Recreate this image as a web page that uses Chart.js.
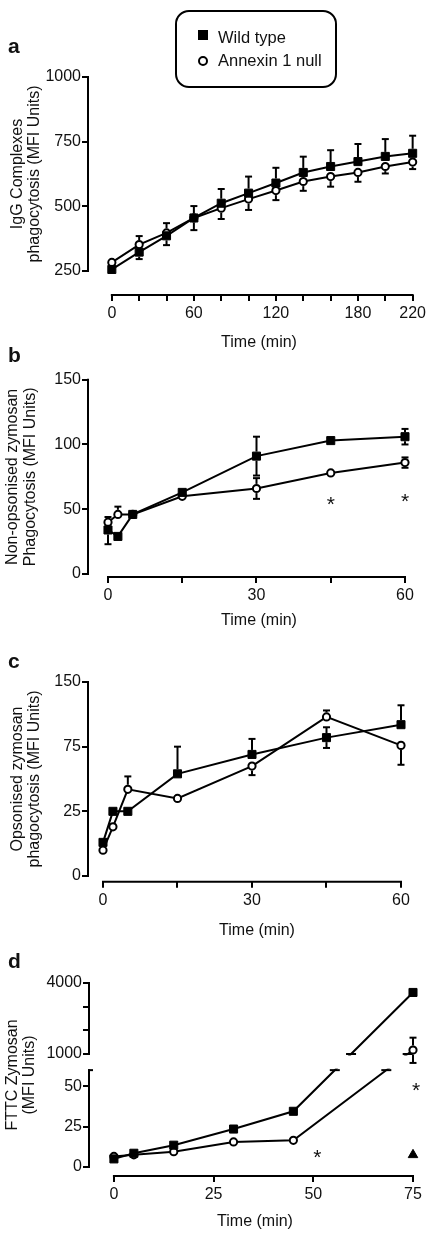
<!DOCTYPE html>
<html>
<head>
<meta charset="utf-8">
<title>Phagocytosis time courses</title>
<script src="https://cdn.jsdelivr.net/npm/chart.js@4.4.1/dist/chart.umd.min.js"></script>
<style>
  body { margin: 0; background: #fff; }
  #page { position: relative; width: 429px; height: 1234px; overflow: hidden; font-family: "Liberation Sans", Arial, sans-serif; color: #111; }
  canvas { position: absolute; left: 0; }
  .letter { position: absolute; left: 8px; font-weight: bold; font-size: 21px; line-height: 21px; }
  #legend { position: absolute; left: 175px; top: 10px; width: 158px; height: 74px; border: 2px solid #000; border-radius: 14px; }
  .mark { position: absolute; left: 21px; width: 10px; height: 10px; box-sizing: border-box; background: #000; }
  .mark.open { background: #fff; border: 2px solid #000; border-radius: 50%; }
  .name { position: absolute; left: 41px; font-size: 16.5px; line-height: 18px; white-space: nowrap; }
</style>
</head>
<body>
<div id="page">
  <canvas id="chartA" width="429" height="360" style="top:0px"></canvas>
  <canvas id="chartB" width="429" height="285" style="top:350px"></canvas>
  <canvas id="chartC" width="429" height="310" style="top:630px"></canvas>
  <canvas id="chartD" width="429" height="294" style="top:940px"></canvas>
  <div class="letter" style="top:35px">a</div>
  <div class="letter" style="top:344px">b</div>
  <div class="letter" style="top:650px">c</div>
  <div class="letter" style="top:950px">d</div>
  <div id="legend"></div>
</div>
<script>
Chart.defaults.font.family = '"Liberation Sans", Arial, sans-serif';
Chart.defaults.color = "#111";

const seriesNames = ["Wild type", "Annexin 1 null"];

// a - IgG complexes
const timeA = [0, 20, 40, 60, 80, 100, 120, 140, 160, 180, 200, 220];
const wtA = [256, 323, 386, 455, 512, 551, 590, 631, 654, 673, 693, 705];
const koA = [283, 352, 397, 455, 493, 528, 561, 596, 615, 631, 654, 671];
// [below, above]
const wtErrA = [[0, 0], [27, 0], [36, 0], [0, 46], [0, 55], [0, 64], [0, 59], [0, 61], [0, 63], [0, 68], [0, 67], [0, 68]];
const koErrA = [[0, 0], [0, 33], [0, 38], [47, 0], [42, 0], [42, 0], [37, 0], [36, 0], [39, 0], [36, 0], [27, 0], [27, 0]];
const xTicksA = [0, 20, 40, 60, 80, 100, 120, 140, 160, 180, 200, 220];
const xLabelsA = ["0", "", "", "60", "", "", "120", "", "", "180", "", "220"];
const yTicksA = [250, 500, 750, 1000];

// b - non-opsonised zymosan
const timeB = [0, 2, 5, 15, 30, 45, 60];
const wtB = [34, 29, 46, 63, 91, 103, 106];
const koB = [40, 46, 46, 60, 66, 78, 86];
const wtErrB = [[11, 0], [0, 0], [0, 0], [0, 0], [15, 15], [1, 1], [6, 6]];
const koErrB = [[0, 4], [0, 6], [0, 0], [0, 0], [8, 8], [0, 0], [4, 4]];
const starsB = [[45, 58], [60, 60]];
const xTicksBC = [0, 15, 30, 45, 60];
const xLabelsBC = ["0", "", "30", "", "60"];
const yTicksB = [0, 50, 100, 150];

// c - opsonised zymosan
const timeC = [0, 2, 5, 15, 30, 45, 60];
const wtC = [26, 50, 50, 79, 94, 107, 117];
const koC = [20, 38, 67, 60, 85, 123, 101];
const wtErrC = [[0, 0], [0, 0], [3, 0], [0, 21], [0, 12], [8, 8], [0, 15]];
const koErrC = [[0, 0], [0, 0], [0, 10], [0, 0], [7, 0], [0, 5], [15, 0]];
const yTicksC = [0, 50, 100, 150];
const yLabelsC = ["0", "25", "75", "150"];

// d - FITC zymosan (broken y axis)
const timeD = [0, 5, 15, 30, 45, 75];
const wtD = [5, 8.5, 13.5, 23.5, 34.5, 3600];
const koD = [6.5, 7.5, 9.5, 15.5, 16.5, 1170];
const wtErrD = [[0, 0], [0, 0], [0, 0], [0, 0], [0, 0], [0, 0]];
const koErrD = [[0, 0], [0, 0], [0, 0], [0, 0], [0, 0], [690, 520]];
const ctrlTimeD = [75];
const ctrlD = [7.5];
const starsD = [[51, 9], [75.75, 51]];
const xTicksD = [0, 25, 50, 75];
const yTicksLowD = [0, 25, 50];
const yTicksHighD = [1000, 2000, 3000, 4000];
const yLabelsHighD = ["1000", "", "", "4000"];

// lower part 0-60, short gap, upper part 1000-4000
function breakD(v) {
  if (v <= 60) return v;
  if (v >= 1000) return 70 + (v - 1000) * 44 / 3000;
  return 60 + (v - 60) / 940 * 10;
}

const WT = { style: "rect", r: 5.7, fill: "#000", bw: 1, half: 4.5 };
const KO = { style: "circle", r: 3.6, fill: "#fff", bw: 2, half: 4.6 };
const CTRL = { style: "triangle", r: 5.5, fill: "#000", bw: 1, half: 4 };

// legend
const legend = document.getElementById("legend");
[["", 18, 16], ["open", 44, 38.5]].forEach(([cls, mTop, tTop], i) => {
  legend.insertAdjacentHTML("beforeend",
    `<div class="mark ${cls}" style="top:${mTop}px"></div><div class="name" style="top:${tTop}px">${seriesNames[i]}</div>`);
});

function axesPlugin(o) {
  return {
    id: "axes" + o.id,
    afterDatasetsDraw(chart) {
      const ctx = chart.ctx, xs = chart.scales.x, ys = chart.scales.y, ca = chart.chartArea;
      const tf = o.tf || ((v) => v);
      const py = (v) => ys.getPixelForValue(tf(v));
      const seg = (x1, y1, x2, y2) => { ctx.beginPath(); ctx.moveTo(x1, y1); ctx.lineTo(x2, y2); ctx.stroke(); };
      ctx.save();
      ctx.lineWidth = 2;
      ctx.strokeStyle = "#000";

      if (o.gap) {
        const gTop = ys.getPixelForValue(o.gap[1]), gBot = ys.getPixelForValue(o.gap[0]);
        ctx.fillStyle = "#fff";
        ctx.fillRect(ca.left + 2, gTop + 1.5, chart.width - ca.left, gBot - gTop - 3);
        chart.data.datasets.forEach((ds) => {
          const p = ds.data;
          for (let i = 1; i < p.length; i++) {
            if (p[i - 1].y < o.gap[0] && p[i].y > o.gap[1]) {
              o.gap.forEach((g) => {
                const f = (g - p[i - 1].y) / (p[i].y - p[i - 1].y);
                const x = xs.getPixelForValue(p[i - 1].x + f * (p[i].x - p[i - 1].x));
                const y = ys.getPixelForValue(g);
                seg(x - 5, y, x + 5, y);
              });
            }
          }
        });
      }

      // error bars
      chart.data.datasets.forEach((ds) => {
        if (!ds.errors) return;
        ds.errors.forEach((e, i) => {
          const x = xs.getPixelForValue(ds.data[i].x), y = ys.getPixelForValue(ds.data[i].y);
          [[-1, e[0]], [1, e[1]]].forEach(([dir, size]) => {
            if (!size) return;
            const y2 = py(ds.raw[i] + dir * size);
            if (Math.abs(y2 - y) <= ds.half) return;
            seg(x, y - dir * ds.half, x, y2);
            seg(x - 3.5, y2, x + 3.5, y2);
          });
        });
      });

      // axis lines
      o.yLines.forEach(([a, b]) => seg(ca.left, ys.getPixelForValue(a) + 1, ca.left, ys.getPixelForValue(b) - 1));
      (o.yCaps || []).forEach((v) => seg(ca.left - 1, ys.getPixelForValue(v), ca.left + 4, ys.getPixelForValue(v)));
      seg(xs.getPixelForValue(o.xLine[0]) - 1, ca.bottom, xs.getPixelForValue(o.xLine[1]) + 1, ca.bottom);

      // titles
      ctx.fillStyle = "#111";
      ctx.font = '16px "Liberation Sans", Arial, sans-serif';
      ctx.textAlign = "center";
      ctx.textBaseline = "middle";
      ctx.fillText("Time (min)", o.xTitlePos[0], o.xTitlePos[1]);
      const yc = (ys.getPixelForValue(o.yLines[0][0]) + ys.getPixelForValue(o.yLines[o.yLines.length - 1][1])) / 2;
      ctx.textBaseline = "alphabetic";
      o.yTitle.forEach((t, i) => {
        ctx.save();
        ctx.translate(o.yTitleX[i], yc);
        ctx.rotate(-Math.PI / 2);
        ctx.fillText(t, 0, 0);
        ctx.restore();
      });

      ctx.font = '21px "Liberation Sans", Arial, sans-serif';
      (o.stars || []).forEach(([t, v]) => ctx.fillText("*", xs.getPixelForValue(t), py(v) + 12));
      ctx.restore();
    }
  };
}

function panel(canvasId, o) {
  const tf = o.tf || ((v) => v);
  const datasets = o.series.map((s) => ({
    label: s.label,
    data: s.t.map((t, i) => ({ x: t, y: tf(s.v[i]) })),
    raw: s.v,
    errors: s.err,
    half: s.look.half,
    showLine: s.line !== false,
    borderColor: "#000",
    borderWidth: 2,
    tension: 0,
    pointStyle: s.look.style,
    pointRadius: s.look.r,
    pointBackgroundColor: s.look.fill,
    pointBorderColor: "#000",
    pointBorderWidth: s.look.bw,
    clip: false
  }));
  const tickOpts = (labels, pad) => ({
    font: { size: 16 }, color: "#111", padding: pad, maxRotation: 0, autoSkip: false,
    callback: (v, i) => labels[i]
  });
  const grid = { drawOnChartArea: false, drawTicks: true, tickLength: 6, lineWidth: 2, color: "#000" };
  return new Chart(document.getElementById(canvasId), {
    type: "line",
    data: { datasets },
    options: {
      responsive: false,
      animation: false,
      events: [],
      layout: { padding: { top: o.top, right: o.right, left: 0, bottom: 0 } },
      plugins: { legend: { display: false }, tooltip: { enabled: false } },
      scales: {
        x: {
          type: "linear", min: o.xMin, max: o.xMax,
          afterBuildTicks: (s) => { s.ticks = o.xTicks.map((v) => ({ value: v })); },
          afterFit: (s) => { s.height = o.xH; },
          ticks: tickOpts(o.xLabels, 3),
          grid, border: { display: false }
        },
        y: {
          type: "linear", min: o.yMin, max: o.yMax,
          afterBuildTicks: (s) => { s.ticks = o.yTicks.map((v) => ({ value: v })); },
          afterFit: (s) => { s.width = o.yW; },
          ticks: tickOpts(o.yLabels, 1),
          grid, border: { display: false }
        }
      }
    },
    plugins: [axesPlugin(o)]
  });
}

panel("chartA", {
  id: "A", top: 77, right: 14, xH: 65, yW: 88,
  xMin: -17.43, xMax: 220, yMin: 157.2, yMax: 1000,
  xTicks: xTicksA, xLabels: xLabelsA,
  yTicks: yTicksA, yLabels: yTicksA.map(String),
  xLine: [0, 220], yLines: [[250, 1000]],
  xTitlePos: [259, 343],
  yTitle: ["IgG Complexes", "phagocytosis (MFI Units)"], yTitleX: [22, 38.5],
  series: [
    { label: seriesNames[0], t: timeA, v: wtA, err: wtErrA, look: WT },
    { label: seriesNames[1], t: timeA, v: koA, err: koErrA, look: KO }
  ]
});

panel("chartB", {
  id: "B", top: 29.7, right: 24, xH: 58, yW: 88,
  xMin: -4.04, xMax: 60, yMin: -2.32, yMax: 150,
  xTicks: xTicksBC, xLabels: xLabelsBC,
  yTicks: yTicksB, yLabels: yTicksB.map(String),
  xLine: [0, 60], yLines: [[0, 150]],
  xTitlePos: [259, 271],
  yTitle: ["Non-opsonised zymosan", "Phagocytosis (MFI Units)"], yTitleX: [17, 35],
  stars: starsB,
  series: [
    { label: seriesNames[0], t: timeB, v: wtB, err: wtErrB, look: WT },
    { label: seriesNames[1], t: timeB, v: koB, err: koErrB, look: KO }
  ]
});

panel("chartC", {
  id: "C", top: 52, right: 28, xH: 58.3, yW: 88,
  xMin: -3.02, xMax: 60, yMin: -4.4, yMax: 150,
  xTicks: xTicksBC, xLabels: xLabelsBC,
  yTicks: yTicksC, yLabels: yLabelsC,
  xLine: [0, 60], yLines: [[0, 150]],
  xTitlePos: [257, 301],
  yTitle: ["Opsonised zymosan", "phagocytosis (MFI Units)"], yTitleX: [22, 38.5],
  series: [
    { label: seriesNames[0], t: timeC, v: wtC, err: wtErrC, look: WT },
    { label: seriesNames[1], t: timeC, v: koC, err: koErrC, look: KO }
  ]
});

panel("chartD", {
  id: "D", top: 43, right: 16, xH: 58, yW: 89,
  xMin: -6.25, xMax: 75, yMin: -5.6, yMax: breakD(4000),
  tf: breakD, gap: [60, 70],
  xTicks: xTicksD, xLabels: xTicksD.map(String),
  yTicks: yTicksLowD.concat(yTicksHighD.map(breakD)),
  yLabels: yTicksLowD.map(String).concat(yLabelsHighD),
  xLine: [0, 75], yLines: [[0, 60], [breakD(1000), breakD(4000)]], yCaps: [60],
  xTitlePos: [255, 282],
  yTitle: ["FTTC Zymosan", "(MFI Units)"], yTitleX: [17, 34],
  stars: starsD,
  series: [
    { label: seriesNames[0], t: timeD, v: wtD, err: wtErrD, look: WT },
    { label: seriesNames[1], t: timeD, v: koD, err: koErrD, look: KO },
    { label: "", t: ctrlTimeD, v: ctrlD, err: null, look: CTRL, line: false }
  ]
});
</script>
</body>
</html>
